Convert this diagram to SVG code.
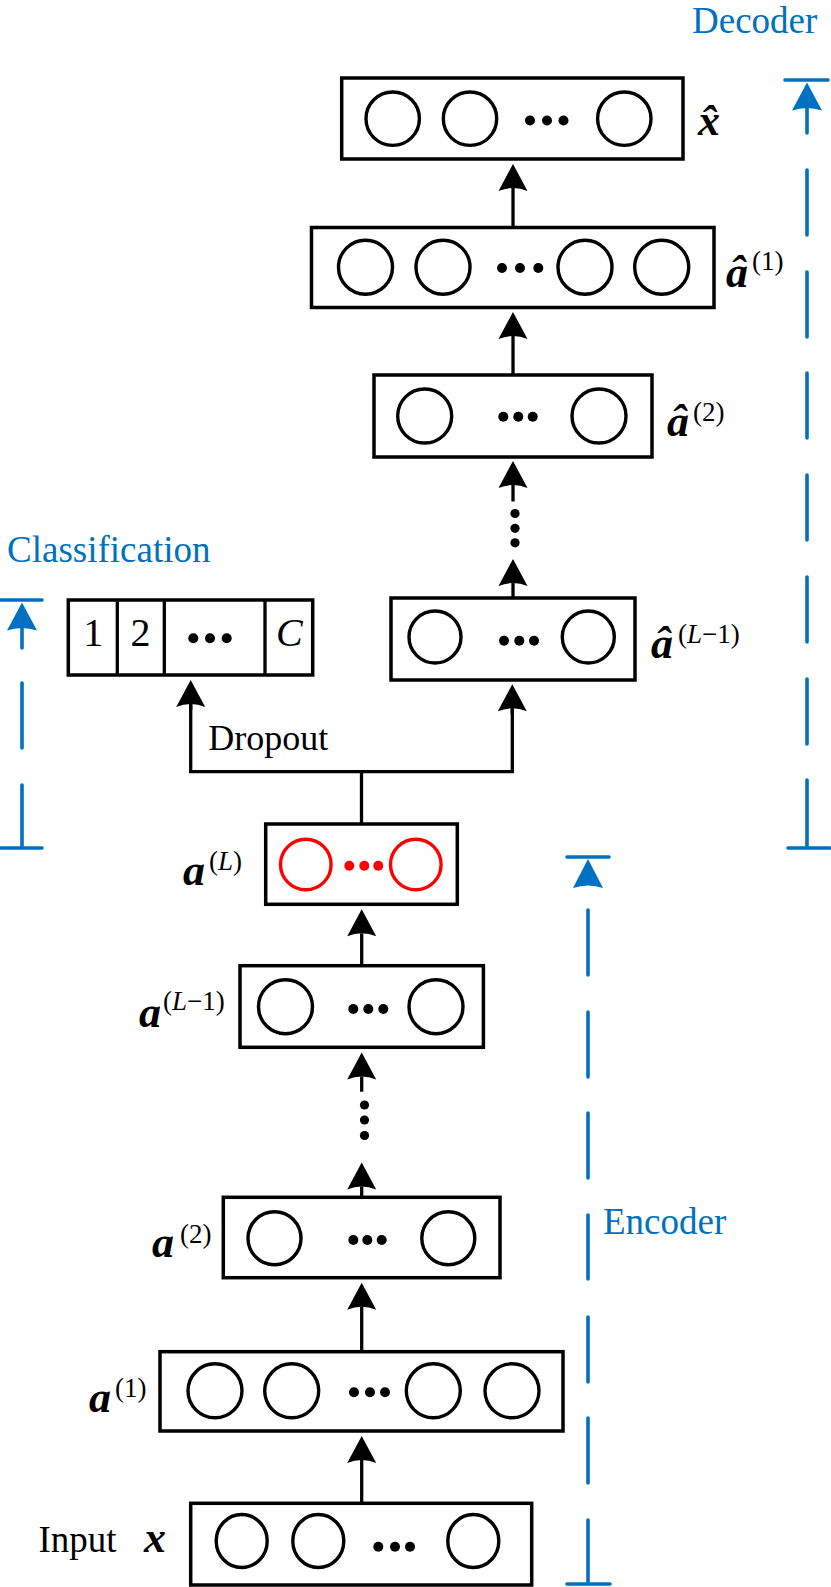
<svg xmlns="http://www.w3.org/2000/svg" width="831" height="1587" viewBox="0 0 831 1587">
<style>
.box{fill:#fff;stroke:#000;stroke-width:3.5}
.n{fill:none;stroke:#000;stroke-width:3.4}
.nr{fill:none;stroke:#f00;stroke-width:3.4}
.d{fill:#000}
.dr{fill:#f00}
.ln{fill:none;stroke:#000;stroke-width:3.3}
.bl{fill:none;stroke:#0070C0;stroke-width:3.6;stroke-linecap:round}
.ba{fill:#0070C0}
.t{font-family:"Liberation Serif","Times New Roman",serif;fill:#000}
.v{font-family:"Liberation Serif","Times New Roman",serif;font-weight:bold;font-style:italic;font-size:44px;fill:#000}
.s{font-family:"Liberation Serif","Times New Roman",serif;font-size:27px;fill:#000}
.bt{font-family:"Liberation Serif","Times New Roman",serif;font-size:37px;fill:#0070C0}
</style>
<defs>
<marker id="ah" markerUnits="userSpaceOnUse" orient="auto" viewBox="-5 -20 40 40" refX="0" refY="0" markerWidth="40" markerHeight="40" overflow="visible">
<path d="M24,0 L-3,-14.5 Q3,0 -3,14.5 Z" fill="#000"/>
</marker>
</defs>

<g id="decoder-bracket">
<text class="bt" x="692" y="33">Decoder</text>
<path class="bl" d="M785,80 H828 M807,107 V133 M807,170 V235 M807,272 V337 M807,373 V438 M807,475 V540 M807,577 V642 M807,679 V744 M807,780 V848 M788,848 H830"/>
<path class="ba" d="M807,82.5 L822,110.5 Q807,105.5 792,110.5 Z"/>
</g>

<g id="classification-bracket">
<text class="bt" x="7" y="562">Classification</text>
<path class="bl" d="M1,600 H42 M22,627 V648 M22,683 V748 M22,785 V848 M1,848 H42"/>
<path class="ba" d="M22,602.5 L37,630.5 Q22,625.5 7,630.5 Z"/>
</g>

<g id="encoder-bracket">
<text class="bt" x="603" y="1234">Encoder</text>
<path class="bl" d="M567,857 H609 M588,910 V975 M588,1012 V1077 M588,1113 V1178 M588,1215 V1279 M588,1317 V1382 M588,1418 V1483 M588,1520 V1584 M567,1584 H610"/>
<path class="ba" d="M588,859 L603,888 Q588,883 573,888 Z"/>
</g>

<g id="connectors">
<path class="ln" d="M513,227.5 V188" marker-end="url(#ah)"/>
<path class="ln" d="M513,375 V336" marker-end="url(#ah)"/>
<path class="ln" d="M513,501.5 V485" marker-end="url(#ah)"/>
<circle class="d" cx="515" cy="513.5" r="4.6"/>
<circle class="d" cx="515" cy="528.3" r="4.6"/>
<circle class="d" cx="515" cy="542.8" r="4.6"/>
<path class="ln" d="M513,598 V583" marker-end="url(#ah)"/>
<path class="ln" d="M361.5,824 V771.7"/>
<path class="ln" d="M190.7,704 V771.7 H512.3 V708.3" stroke-linejoin="miter"/>
<path class="ln" d="M190.7,710 V704" marker-end="url(#ah)"/>
<path class="ln" d="M512.3,714 V708.3" marker-end="url(#ah)"/>
<path class="ln" d="M361.7,965.7 V933.3" marker-end="url(#ah)"/>
<path class="ln" d="M361.7,1091.7 V1076.5" marker-end="url(#ah)"/>
<circle class="d" cx="364.5" cy="1105" r="4.6"/>
<circle class="d" cx="364.5" cy="1120" r="4.6"/>
<circle class="d" cx="364.5" cy="1135.5" r="4.6"/>
<path class="ln" d="M361.7,1197 V1186.5" marker-end="url(#ah)"/>
<path class="ln" d="M361.7,1351.7 V1306.7" marker-end="url(#ah)"/>
<path class="ln" d="M361.7,1503.3 V1460" marker-end="url(#ah)"/>
</g>

<g id="node-xhat">
<rect class="box" x="341.7" y="78" width="341.3" height="81"/>
<circle class="n" cx="392.7" cy="118.7" r="26.7"/>
<circle class="n" cx="470" cy="118.7" r="26.7"/>
<circle class="n" cx="624.3" cy="118.7" r="26.7"/>
<circle class="d" cx="530" cy="120.5" r="5"/>
<circle class="d" cx="547" cy="120.5" r="5"/>
<circle class="d" cx="563.5" cy="120.5" r="5"/>
<text class="v" x="698" y="135">x̂</text>
</g>

<g id="node-ahat1">
<rect class="box" x="311.5" y="227.5" width="402.5" height="80"/>
<circle class="n" cx="365.5" cy="267.2" r="27"/>
<circle class="n" cx="443" cy="267.2" r="27"/>
<circle class="n" cx="585" cy="267.2" r="27"/>
<circle class="n" cx="661.7" cy="267.2" r="27"/>
<circle class="d" cx="502" cy="268" r="5"/>
<circle class="d" cx="520" cy="268" r="5"/>
<circle class="d" cx="538.3" cy="268" r="5"/>
<text class="v" x="726" y="287">â</text>
<text class="s" x="752" y="270">(1)</text>
</g>

<g id="node-ahat2">
<rect class="box" x="374" y="375" width="278" height="82"/>
<circle class="n" cx="424.7" cy="416" r="27"/>
<circle class="n" cx="599" cy="416" r="27"/>
<circle class="d" cx="503.3" cy="416.7" r="5"/>
<circle class="d" cx="518.3" cy="416.7" r="5"/>
<circle class="d" cx="532.7" cy="416.7" r="5"/>
<text class="v" x="667" y="436">â</text>
<text class="s" x="693" y="421">(2)</text>
</g>

<g id="node-ahatL1">
<rect class="box" x="391" y="598" width="244" height="82"/>
<circle class="n" cx="435" cy="637" r="26"/>
<circle class="n" cx="588.3" cy="637" r="26"/>
<circle class="d" cx="504" cy="640.7" r="5"/>
<circle class="d" cx="519.3" cy="640.7" r="5"/>
<circle class="d" cx="534" cy="640.7" r="5"/>
<text class="v" x="651" y="658">â</text>
<text class="s" x="678" y="643">(<tspan font-style="italic">L</tspan>−1)</text>
</g>

<g id="node-classes">
<rect class="box" x="68.3" y="600" width="244.4" height="75"/>
<path class="ln" d="M117.3,600 V675 M164.3,600 V675 M265,600 V675"/>
<text class="t" x="93.3" y="646" font-size="40" text-anchor="middle">1</text>
<text class="t" x="140.5" y="646" font-size="40" text-anchor="middle">2</text>
<circle class="d" cx="193.3" cy="638.3" r="5"/>
<circle class="d" cx="210" cy="638.3" r="5"/>
<circle class="d" cx="226.7" cy="638.3" r="5"/>
<text class="t" x="289.3" y="646" font-size="40" font-style="italic" text-anchor="middle">C</text>
<text class="t" x="208.3" y="750" font-size="36">Dropout</text>
</g>

<g id="node-aL">
<rect class="box" x="265.7" y="824" width="191.6" height="80.3"/>
<circle class="nr" cx="305.8" cy="864.5" r="25.3"/>
<circle class="nr" cx="415.8" cy="864.5" r="25.3"/>
<circle class="dr" cx="349.3" cy="865.7" r="5"/>
<circle class="dr" cx="364.3" cy="865.7" r="5"/>
<circle class="dr" cx="378.3" cy="865.7" r="5"/>
<text class="v" x="183" y="885">a</text>
<text class="s" x="209" y="870">(<tspan font-style="italic">L</tspan>)</text>
</g>

<g id="node-aL1">
<rect class="box" x="240" y="965.7" width="243.4" height="81.6"/>
<circle class="n" cx="285.5" cy="1006.7" r="27"/>
<circle class="n" cx="436" cy="1006.7" r="27"/>
<circle class="d" cx="353.3" cy="1009" r="5"/>
<circle class="d" cx="368.3" cy="1009" r="5"/>
<circle class="d" cx="383.3" cy="1009" r="5"/>
<text class="v" x="139" y="1027">a</text>
<text class="s" x="163" y="1010">(<tspan font-style="italic">L</tspan>−1)</text>
</g>

<g id="node-a2">
<rect class="box" x="223.3" y="1197.3" width="276.7" height="80.4"/>
<circle class="n" cx="274.5" cy="1238.3" r="26.5"/>
<circle class="n" cx="448.3" cy="1238.3" r="26.5"/>
<circle class="d" cx="353.3" cy="1240" r="5"/>
<circle class="d" cx="367.3" cy="1240" r="5"/>
<circle class="d" cx="381.7" cy="1240" r="5"/>
<text class="v" x="152" y="1257.3">a</text>
<text class="s" x="180" y="1242.7">(2)</text>
</g>

<g id="node-a1">
<rect class="box" x="160" y="1351.7" width="403" height="79.3"/>
<circle class="n" cx="215" cy="1390.8" r="27"/>
<circle class="n" cx="291.7" cy="1390.8" r="27"/>
<circle class="n" cx="433.3" cy="1390.8" r="27"/>
<circle class="n" cx="512" cy="1390.8" r="27"/>
<circle class="d" cx="354" cy="1392.3" r="5"/>
<circle class="d" cx="370" cy="1392.3" r="5"/>
<circle class="d" cx="385" cy="1392.3" r="5"/>
<text class="v" x="89" y="1411.7">a</text>
<text class="s" x="115" y="1396.7">(1)</text>
</g>

<g id="node-input">
<rect class="box" x="190.7" y="1503.3" width="341" height="81.7"/>
<ellipse class="n" cx="241.7" cy="1541" rx="25.5" ry="26.5"/>
<ellipse class="n" cx="318.3" cy="1541" rx="25.5" ry="26.5"/>
<ellipse class="n" cx="473.3" cy="1541" rx="25.5" ry="26.5"/>
<circle class="d" cx="378.3" cy="1546.7" r="5"/>
<circle class="d" cx="395" cy="1546.7" r="5"/>
<circle class="d" cx="410" cy="1546.7" r="5"/>
<text class="t" x="38.5" y="1552" font-size="37">Input</text>
<text class="v" x="144" y="1552">x</text>
</g>
</svg>
